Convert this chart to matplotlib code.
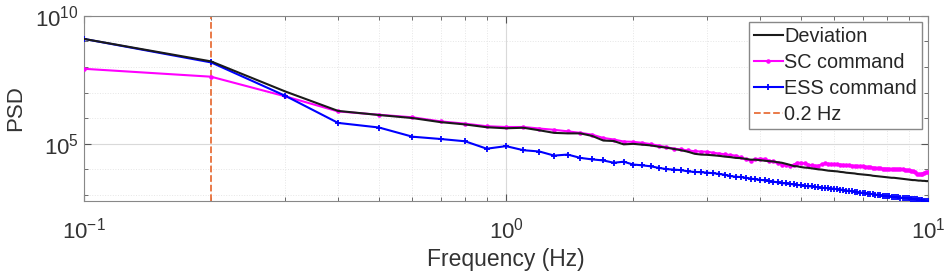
import numpy as np
import matplotlib
matplotlib.use("Agg")
import matplotlib.pyplot as plt
from matplotlib.ticker import FixedLocator, NullFormatter

plt.rcParams['font.family'] = ['Liberation Sans', 'DejaVu Sans']
plt.rcParams['axes.unicode_minus'] = False

# frequency axis, 0.1 Hz resolution
freq = [round(0.1 * k, 1) for k in range(1, 101)]

# log10(PSD)
log_dev = [9.10, 8.22, 7.04, 6.28, 6.12, 6.00, 5.84, 5.75, 5.64, 5.60,
           5.62, 5.52, 5.42, 5.40, 5.40, 5.30, 5.12, 5.10, 4.97, 4.99,
           4.96, 4.93, 4.88, 4.84, 4.79, 4.74, 4.68, 4.60, 4.57, 4.56,
           4.54, 4.52, 4.49, 4.47, 4.44, 4.43, 4.40, 4.37, 4.37, 4.35,
           4.33, 4.31, 4.30, 4.27, 4.25, 4.21, 4.17, 4.12, 4.11, 4.08,
           4.06, 4.05, 4.03, 4.01, 3.99, 3.98, 3.96, 3.94, 3.93, 3.92,
           3.91, 3.89, 3.88, 3.86, 3.85, 3.84, 3.83, 3.81, 3.80, 3.79,
           3.78, 3.77, 3.76, 3.74, 3.73, 3.72, 3.71, 3.70, 3.69, 3.68,
           3.67, 3.66, 3.66, 3.65, 3.64, 3.63, 3.62, 3.61, 3.60, 3.59,
           3.58, 3.57, 3.57, 3.56, 3.55, 3.55, 3.54, 3.54, 3.53, 3.53]

log_sc = [7.93, 7.62, 6.85, 6.26, 6.13, 6.03, 5.87, 5.78, 5.68, 5.65,
          5.65, 5.59, 5.54, 5.48, 5.42, 5.35, 5.22, 5.16, 5.08, 5.07,
          5.03, 4.98, 4.92, 4.86, 4.80, 4.77, 4.73, 4.70, 4.69, 4.68,
          4.64, 4.61, 4.58, 4.55, 4.53, 4.46, 4.38, 4.33, 4.39, 4.41,
          4.40, 4.33, 4.30, 4.23, 4.18, 4.15, 4.14, 4.17, 4.25, 4.25,
          4.22, 4.18, 4.15, 4.13, 4.14, 4.19, 4.22, 4.21, 4.20, 4.20,
          4.19, 4.18, 4.17, 4.16, 4.15, 4.14, 4.13, 4.12, 4.11, 4.11,
          4.10, 4.09, 4.08, 4.06, 4.05, 4.04, 4.03, 4.02, 4.02, 4.01,
          4.01, 4.00, 4.01, 4.00, 4.00, 4.01, 3.99, 3.98, 3.96, 3.96,
          3.94, 3.92, 3.87, 3.82, 3.79, 3.79, 3.82, 3.86, 3.88, 3.88]

log_ess = [9.10, 8.18, 6.87, 5.81, 5.63, 5.27, 5.18, 5.09, 4.80, 4.90,
           4.74, 4.69, 4.53, 4.57, 4.44, 4.38, 4.34, 4.25, 4.29, 4.18,
           4.15, 4.11, 4.05, 4.00, 3.98, 3.96, 3.91, 3.89, 3.88, 3.86,
           3.84, 3.81, 3.78, 3.73, 3.70, 3.69, 3.66, 3.63, 3.60, 3.58,
           3.56, 3.53, 3.51, 3.48, 3.45, 3.44, 3.42, 3.40, 3.38, 3.37,
           3.35, 3.33, 3.32, 3.30, 3.29, 3.27, 3.26, 3.25, 3.24, 3.23,
           3.21, 3.20, 3.18, 3.16, 3.15, 3.13, 3.11, 3.10, 3.08, 3.07,
           3.06, 3.04, 3.03, 3.02, 3.00, 2.99, 2.97, 2.96, 2.95, 2.94,
           2.93, 2.92, 2.91, 2.90, 2.89, 2.88, 2.88, 2.87, 2.86, 2.85,
           2.84, 2.83, 2.82, 2.81, 2.80, 2.79, 2.78, 2.77, 2.76, 2.75]

cutoff = 0.2

psd_dev = 10 ** np.array(log_dev)
psd_sc = 10 ** np.array(log_sc)
psd_ess = 10 ** np.array(log_ess)

fig = plt.figure(figsize=(9.47, 2.75), dpi=100)
ax = fig.add_axes([0.0887, 0.269, 0.8913, 0.673])

ax.loglog(freq, psd_dev, color='#1a1a1a', lw=1.5, label='Deviation', zorder=4)
ax.loglog(freq, psd_sc, color='#ff00ff', lw=1.5, marker='.', ms=4.5, label='SC command', zorder=3)
ax.loglog(freq, psd_ess, color='#0000ff', lw=1.5, marker='+', ms=4.5, mew=1.3, label='ESS command', zorder=3)
ax.axvline(cutoff, color='#e8703a', ls='--', lw=1.3, label='0.2 Hz', zorder=2)

ax.set_xlim(0.1, 10)
ax.set_ylim(10 ** 2.75, 1e10)
ax.set_yticks([1e5, 1e10])
ax.yaxis.set_minor_locator(FixedLocator([1e3, 1e4, 1e6, 1e7, 1e8, 1e9]))
ax.yaxis.set_minor_formatter(NullFormatter())
ax.xaxis.set_minor_formatter(NullFormatter())

ax.grid(True, which='major', color='#d9d9d9', lw=0.8)
ax.grid(True, which='minor', color='#e6e6e6', lw=0.7, ls=':')
ax.set_axisbelow(True)

ax.tick_params(which='both', direction='in', top=True, right=True,
               colors='#555555', labelcolor='#333333', labelsize=16)
ax.tick_params(which='major', length=5)
ax.tick_params(which='minor', length=3)
ax.tick_params(axis='x', pad=12)
for s in ax.spines.values():
    s.set_color('#888888')

ax.set_xlabel('Frequency (Hz)', fontsize=16.5, color='#333333', labelpad=3)
ax.set_ylabel('PSD', fontsize=16, color='#333333', labelpad=7)

leg = ax.legend(loc='upper right', fontsize=14.3, handlelength=1.5, handletextpad=0.05,
                labelspacing=0.36, borderpad=0.25, borderaxespad=0.3, fancybox=False,
                framealpha=1, edgecolor='#888888')
for t in leg.get_texts():
    t.set_color('#262626')

fig.savefig('out.png', dpi=100)
